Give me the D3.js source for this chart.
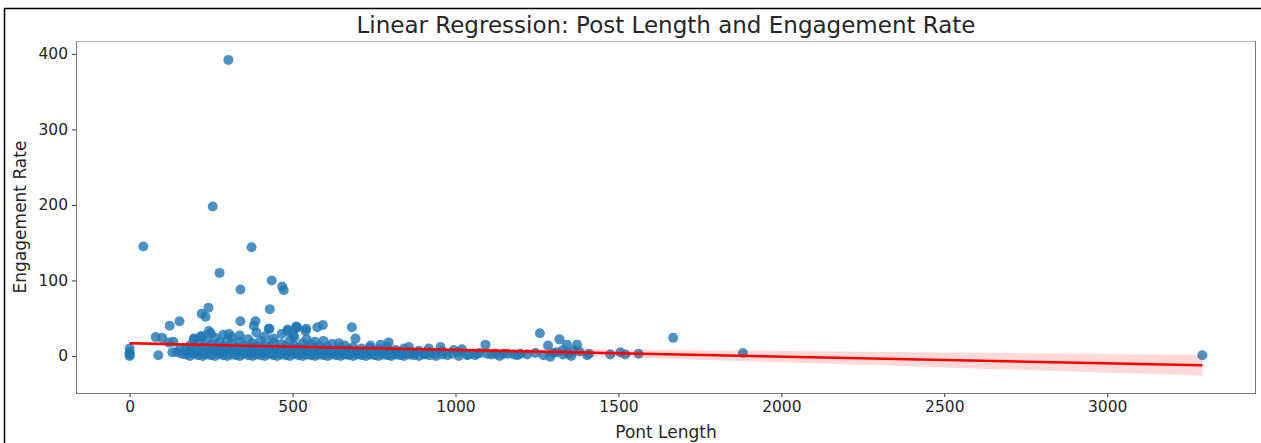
<!DOCTYPE html>
<html>
<head>
<meta charset="utf-8">
<script src="https://cdn.jsdelivr.net/npm/d3@7"></script>
<style>
  body { margin: 0; background: #fff; }
  svg text { font-family: "DejaVu Sans", sans-serif; fill: #262626; }
</style>
</head>
<body>
<svg id="chart" width="1261" height="443"></svg>
<script>
// ---- data ----
const postLength = [
  303, 255, 374, 42, 276, 436, 340, 468, 473, 430, 242, 221, 233, 153, 123, 340, 386, 381, 593, 682,
  511, 542, 576, 429, 485, 80, 100, 134, 197, 305, 427, 484, 514, 512, 540, 693, 642, 795, 770, 739,
  857, 918, 954, 995, 1020, 1092, 1259, 1319, 1284, 1342, 1373, 1668, 1404, 1475, 1506, 1521, 1562, 1097, 1123, 1148,
  1179, 1199, 1245, 1291, 1311, 1347, 1363, 1882, 3292, 0, 0, 0, 0, 88, 131, 146, 120, 160, 155, 218,
  243, 502, 1036, 1066,
  172, 172, 185, 185, 185, 198, 198, 198, 210, 210, 210, 224, 224, 224, 224, 236, 236, 236, 249, 249,
  249, 249, 262, 262, 262, 262, 275, 275, 275, 287, 287, 287, 287, 300, 300, 300, 300, 313, 313, 313,
  313, 326, 326, 326, 338, 338, 338, 338, 351, 351, 351, 364, 364, 364, 377, 377, 377, 377, 389, 389,
  389, 389, 402, 402, 402, 415, 415, 415, 415, 428, 428, 428, 441, 441, 441, 441, 453, 453, 453, 466,
  466, 466, 466, 479, 479, 479, 492, 492, 492, 505, 505, 505, 505, 518, 518, 518, 531, 531, 531, 543,
  543, 543, 543, 556, 556, 556, 569, 569, 569, 569, 582, 582, 582, 595, 595, 595, 595, 608, 608, 608,
  621, 621, 621, 634, 634, 647, 647, 647, 660, 660, 660, 673, 673, 673, 686, 686, 686, 699, 699, 712,
  712, 712, 725, 725, 738, 738, 738, 751, 751, 764, 764, 764, 777, 777, 790, 790, 790, 803, 803, 816,
  816, 829, 829, 842, 842, 842, 858, 858, 872, 872, 888, 888, 905, 905, 920, 920, 940, 940, 960, 960,
  975, 990, 1010, 1010, 1040, 1060, 1075, 1110, 1135, 1160, 1190, 1220, 1270, 1300, 1330, 1330, 1355, 1380, 1410
];
const engagementRate = [
  392, 198, 144, 145, 110, 100, 88, 92, 87, 62, 64, 56, 52, 46, 40, 46, 46, 40, 41, 38,
  39, 36, 38, 36, 35, 25, 24, 19, 23, 29, 36, 33, 38, 37, 33, 23, 17, 18, 15, 14,
  12, 10, 12, 8, 9, 15, 30, 22, 14, 15, 15, 24, 1, 2, 5, 2, 3, 3, 3, 3,
  2, 3, 4, -1, 5, 3, 7, 4, 1, 0, 2, 5, 10, 1, 5, 5, 18, 3, 10, 26,
  33, 27, 1, 3,
  2, 8, 0, 5, 14, 3, 10, 22, 1, 6, 17, 0, 4, 12, 26, 2, 9, 20, 1, 5,
  15, 30, 0, 7, 11, 24, 3, 8, 18, 1, 4, 13, 28, 0, 6, 10, 21, 2, 9, 16,
  25, 1, 5, 12, 0, 7, 19, 27, 3, 10, 14, 1, 6, 22, 0, 4, 11, 17, 2, 8,
  13, 31, 1, 5, 20, 0, 9, 15, 26, 3, 7, 12, 1, 4, 18, 23, 0, 6, 10, 2,
  8, 16, 29, 1, 5, 13, 0, 7, 21, 3, 9, 14, 25, 1, 4, 11, 0, 6, 17, 2,
  8, 12, 22, 1, 5, 15, 0, 3, 10, 19, 2, 7, 13, 1, 4, 9, 20, 0, 6, 12,
  2, 5, 16, 1, 8, 0, 4, 11, 2, 6, 14, 1, 3, 9, 0, 5, 12, 2, 7, 1,
  4, 10, 0, 6, 2, 3, 11, 1, 5, 0, 7, 9, 2, 4, 1, 6, 12, 0, 3, 2,
  8, 1, 5, 0, 3, 10, 2, 6, 1, 4, 0, 7, 2, 3, 1, 5, 0, 4, 2, 6,
  1, 3, 0, 5, 2, 1, 4, 2, 0, 3, 1, 2, 1, 4, 2, 8, 0, 6, 3
];
// fitted regression line
const fitX = [0, 3292];
const fitY = [16.7, -12.2];
// confidence band half-width at sampled x
const bandX = [0, 500, 1000, 1500, 2000, 2500, 3000, 3292];
const bandHalf = [2.6, 1.8, 3.0, 5.2, 7.5, 10.0, 12.3, 13.8];
const xTicks = [0, 500, 1000, 1500, 2000, 2500, 3000];
const yTicks = [0, 100, 200, 300, 400];

// ---- layout ----
const svg = d3.select("#chart");
const L = 76, R = 1256, T = 41, B = 393;
const x = d3.scaleLinear().domain([-164.6, 3456.6]).range([L, R]);
const y = d3.scaleLinear().domain([-49, 417]).range([B, T]);

// outer frame lines of the image
svg.append("line").attr("x1", 4).attr("x2", 1261).attr("y1", 8.5).attr("y2", 8.5).attr("stroke", "#000").attr("stroke-width", 1.5);
svg.append("line").attr("x1", 4.5).attr("x2", 4.5).attr("y1", 8).attr("y2", 443).attr("stroke", "#000").attr("stroke-width", 1.5);

const slope = (fitY[1] - fitY[0]) / (fitX[1] - fitX[0]);
const fitAt = v => fitY[0] + slope * (v - fitX[0]);

// scatter
const clipId = "plotclip";
svg.append("clipPath").attr("id", clipId).append("rect").attr("x", L).attr("y", T).attr("width", R - L).attr("height", B - T);
const plot = svg.append("g").attr("clip-path", `url(#${clipId})`);
plot.selectAll("circle").data(postLength.map((d, i) => [d, engagementRate[i]])).join("circle")
  .attr("cx", d => x(d[0])).attr("cy", d => y(d[1])).attr("r", 5)
  .attr("fill", "#1f77b4").attr("fill-opacity", 0.8);

// CI band
const bandData = bandX.map((v, i) => ({ v, lo: fitAt(v) - bandHalf[i], hi: fitAt(v) + bandHalf[i] }));
plot.append("path").datum(bandData)
  .attr("d", d3.area().x(d => x(d.v)).y0(d => y(d.lo)).y1(d => y(d.hi)).curve(d3.curveMonotoneX))
  .attr("fill", "red").attr("fill-opacity", 0.15);
// line
plot.append("path").datum(fitX.map((v, i) => [v, fitY[i]]))
  .attr("d", d3.line().x(d => x(d[0])).y(d => y(d[1])))
  .attr("stroke", "red").attr("stroke-width", 2.5).attr("fill", "none");

// axes
const xAxis = svg.append("g").attr("transform", `translate(0,${B})`)
  .call(d3.axisBottom(x).tickValues(xTicks).tickSize(4).tickPadding(4).tickFormat(d3.format("d")));
const yAxis = svg.append("g").attr("transform", `translate(${L},0)`)
  .call(d3.axisLeft(y).tickValues(yTicks).tickSize(4).tickPadding(4).tickFormat(d3.format("d")));
[xAxis, yAxis].forEach(g => {
  g.select(".domain").remove();
  g.selectAll(".tick line").attr("stroke", "#333").attr("stroke-width", 1);
  g.selectAll(".tick text").attr("font-size", "15.5px").attr("font-family", "DejaVu Sans").attr("fill", "#262626");
});
// spines
svg.append("line").attr("x1", L).attr("x2", R).attr("y1", T + 0.5).attr("y2", T + 0.5).attr("stroke", "#bbb");
svg.append("line").attr("x1", R - 0.5).attr("x2", R - 0.5).attr("y1", T).attr("y2", B).attr("stroke", "#777");
svg.append("line").attr("x1", L + 0.5).attr("x2", L + 0.5).attr("y1", T).attr("y2", B + 0.5).attr("stroke", "#777");
svg.append("line").attr("x1", L).attr("x2", R).attr("y1", B + 0.5).attr("y2", B + 0.5).attr("stroke", "#777");

// texts
svg.append("text").attr("x", (L + R) / 2).attr("y", T - 8).attr("text-anchor", "middle")
  .attr("font-size", "23px").text("Linear Regression: Post Length and Engagement Rate");
svg.append("text").attr("x", (L + R) / 2).attr("y", 438).attr("text-anchor", "middle")
  .attr("font-size", "17px").text("Pont Length");
svg.append("text").attr("transform", `translate(26,${(T + B) / 2}) rotate(-90)`).attr("text-anchor", "middle")
  .attr("font-size", "17px").text("Engagement Rate");
</script>
</body>
</html>
